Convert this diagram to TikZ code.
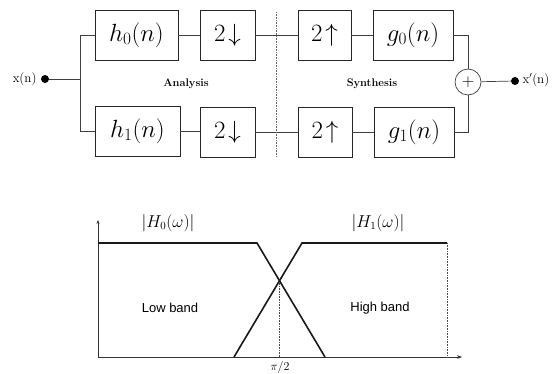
\documentclass[tikz,border=0pt]{standalone}
\usepackage{fontspec}
\newfontfamily\bandfont{Liberation Sans}
\usetikzlibrary{arrows.meta}
\begin{document}
\begin{tikzpicture}[x=1pt,y=-1pt,
  blk/.style={draw=black!85,line width=0.7pt,minimum height=50pt,inner sep=0pt,font=\fontsize{24}{28}\selectfont},
  wire/.style={draw=black!75,line width=0.7pt},
  dotn/.style={circle,fill=black,inner sep=0pt,minimum size=8pt},
  curve/.style={line width=1.6pt,black!90},
  lbl/.style={font=\fontsize{11}{13}\selectfont\bfseries}]
\useasboundingbox (0,0) rectangle (553,374);
% blocks
\node[blk,minimum width=83pt] (h0) at (136.5,35) {$h_0(n)$};
\node[blk,minimum width=55pt] (d0) at (227.5,35) {$2\!\downarrow$};
\node[blk,minimum width=53pt] (u0) at (324.5,35) {$2\!\uparrow$};
\node[blk,minimum width=80pt] (g0) at (413,35) {$g_0(n)$};
\node[blk,minimum width=85pt] (h1) at (137.5,131) {$h_1(n)$};
\node[blk,minimum width=55pt] (d1) at (227.5,132) {$2\!\downarrow$};
\node[blk,minimum width=54pt] (u1) at (325,132) {$2\!\uparrow$};
\node[blk,minimum width=80pt] (g1) at (414,132) {$g_1(n)$};
\node[draw=black!75,circle,line width=0.7pt,minimum size=26pt,inner sep=0pt,font=\fontsize{16}{18}\selectfont] (plus) at (468,82) {$+$};
\node[dotn] (xin) at (45,79) {};
\node[dotn] (xout) at (515,81) {};
\node[anchor=east,font=\fontsize{13}{15}\selectfont] (xl) at (40,79) {x(n)};
\node[anchor=west,font=\fontsize{13}{15}\selectfont] (xr) at (519,80) {x$'$(n)};
\node[lbl] (ana) at (186,84) {Analysis};
\node[lbl] (syn) at (372,84) {Synthesis};
\coordinate (br) at (80,79);
\coordinate (sepT) at (276,12);
\coordinate (sepB) at (276,157);
% wires
\draw[wire] (xin) -- (br);
\draw[wire] (br) |- (h0.west);
\draw[wire] (br) |- (h1.west);
\draw[wire] (h0) -- (d0);
\draw[wire] (d0) -- (u0);
\draw[wire] (u0) -- (g0);
\draw[wire] (h1.east) -- (d1.west |- h1.east);
\draw[wire] (d1) -- (u1);
\draw[wire] (u1.east) -- (g1.west |- u1.east);
\draw[wire] (g0.east) -| (plus.north);
\draw[wire] (g1.east) -| (plus.south);
\draw[wire] (plus) -- (xout);
\draw[black!60,line width=0.6pt,densely dotted] (sepT) -- (sepB);
% spectrum
\coordinate (O) at (98,357);
\coordinate (ytop) at (98,220);
\coordinate (xend) at (462,357);
\draw[black!80,line width=0.7pt,-{Stealth[length=5pt]}] (O) -- (xend);
\draw[black!80,line width=0.7pt,-{Stealth[length=4pt]}] (O) -- (ytop);
\coordinate (a0) at (98,243);
\coordinate (a1) at (257,243);
\coordinate (a2) at (325,357);
\coordinate (b0) at (234,357);
\coordinate (b1) at (302,243);
\coordinate (b2) at (447,243);
\coordinate (b3) at (447,357);
\coordinate (cx) at (279.5,282.7);
\coordinate (cb) at (279.5,357);
\draw[curve] (a0) -- (a1) -- (a2);
\draw[curve] (b0) -- (b1) -- (b2);
\draw[black!70,line width=0.6pt,densely dotted] (b2) -- (b3);
\draw[black!70,line width=0.6pt,densely dotted] (cx) -- (cb);
\node[font=\fontsize{16}{18}\selectfont] (H0) at (168,223) {$\left|H_0(\omega)\right|$};
\node[font=\fontsize{16}{18}\selectfont] (H1) at (378,223) {$\left|H_1(\omega)\right|$};
\node[font=\bandfont\fontsize{13}{15}\selectfont] (lb) at (170,308) {Low band};
\node[font=\bandfont\fontsize{13}{15}\selectfont] (hb) at (380,308) {High band};
\node[font=\fontsize{13}{15}\selectfont] (pi) at (280,367) {$\pi/2$};
\end{tikzpicture}
\end{document}
